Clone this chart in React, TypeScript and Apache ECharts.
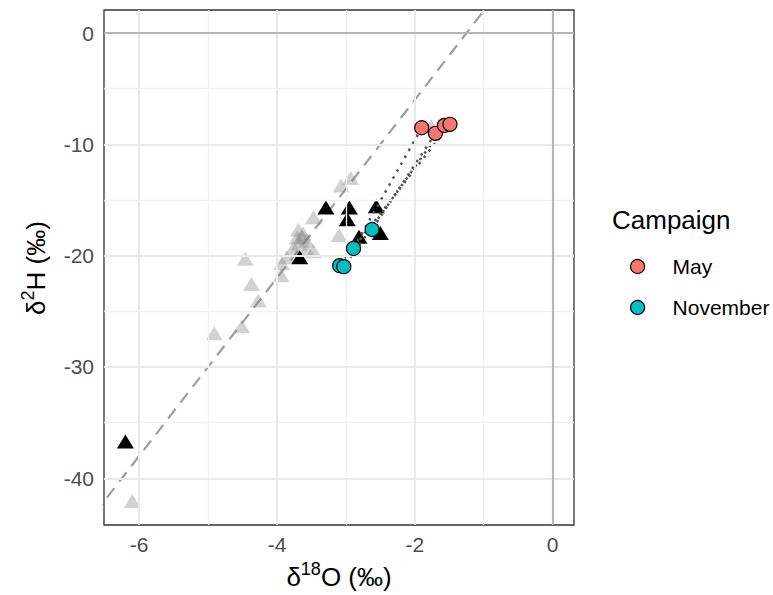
import React, { useEffect, useRef } from "react";
import * as echarts from "echarts";

const FONT = "'Liberation Sans', Arial, Helvetica, sans-serif";

// axis ticks / grid
const xTicks = [-6, -4, -2, 0];
const xMinor = [-5, -3, -1];
const yTicks = [-40, -30, -20, -10, 0];
const yMinor = [-35, -25, -15, -5];

// reference groundwater samples (light grey triangles)
const refD18O = [-2.93, -3.07, -3.47, -3.69, -3.71, -3.64, -3.57, -3.10, -3.47, -3.57, -3.86, -3.93, -4.46, -4.37, -4.27, -3.94, -4.51, -4.91, -6.10, -1.76, -3.68, -3.76, -3.62];
const refD2H = [-13.03, -13.7, -16.56, -17.68, -18.36, -18.3, -18.67, -18.14, -19.6, -19.44, -20.15, -20.68, -20.28, -22.54, -24.02, -21.76, -26.35, -26.97, -42.04, -8.36, -18.9, -19.3, -18.0];

// other samples (black triangles)
const blackD18O = [-3.29, -2.95, -2.98, -2.56, -2.81, -2.5, -3.67, -6.2];
const blackD2H = [-15.67, -15.67, -16.72, -15.57, -18.3, -17.96, -20.15, -36.69];

// campaigns
const mayD18O = [-1.9, -1.7, -1.57, -1.49];
const mayD2H = [-8.51, -9.01, -8.3, -8.2];
const novD18O = [-2.62, -2.89, -3.09, -3.03];
const novD2H = [-17.65, -19.35, -20.9, -20.99];

// site pairing May -> November (dotted links)
const pairs = [
  [0, 1],
  [1, 0],
  [2, 3],
  [3, 2],
];

// global meteoric water line d2H = 8 * d18O + 10
const gmwlSlope = 8;
const gmwlIntercept = 10;
const gmwlX = [-7, 0];

const xMin = -6.51;
const xMax = 0.31;
const yMin = -44.2;
const yMax = 2.07;

const zip = (a: number[], b: number[]) => a.map((v, i) => [v, b[i]]);

export default function App() {
  const ref = useRef<HTMLDivElement>(null);
  useEffect(() => {
    if (!ref.current) return;
    const chart = echarts.init(ref.current, null, { renderer: "svg" });

    const gridLines: any[] = [
      ...xMinor.map((v) => ({ xAxis: v, lineStyle: { color: "#f1f1f1", width: 1.3, type: "solid" } })),
      ...yMinor.map((v) => ({ yAxis: v, lineStyle: { color: "#f1f1f1", width: 1.3, type: "solid" } })),
      ...xTicks.map((v) => ({ xAxis: v, lineStyle: { color: "#e9e9e9", width: 2, type: "solid" } })),
      ...yTicks.map((v) => ({ yAxis: v, lineStyle: { color: "#e9e9e9", width: 2, type: "solid" } })),
      { xAxis: 0, lineStyle: { color: "#b5b5b5", width: 2.2, type: "solid" } },
      { yAxis: 0, lineStyle: { color: "#b5b5b5", width: 2.2, type: "solid" } },
    ];

    const linkSeries = pairs.map(([m, n], i) => ({
      type: "line",
      name: "link" + i,
      data: [
        [mayD18O[m], mayD2H[m]],
        [novD18O[n], novD2H[n]],
      ],
      showSymbol: false,
      symbol: "none",
      silent: true,
      z: 4,
      lineStyle: { color: "#555555", width: 2.5, type: [2.5, 5.5], cap: "butt" },
    }));

    const option: any = {
      animation: false,
      grid: {
        left: 104,
        top: 10,
        right: 199,
        bottom: 70,
        show: true,
        borderColor: "#333333",
        borderWidth: 1.3,
        backgroundColor: "#ffffff",
      },
      xAxis: {
        type: "value",
        min: xMin,
        max: xMax,
        axisLine: { show: false },
        splitLine: { show: false },
        axisTick: { show: true, customValues: xTicks, length: 5, lineStyle: { color: "#333333", width: 1.5 } },
        axisLabel: { customValues: xTicks, fontSize: 21, color: "#4d4d4d", margin: 9, fontFamily: FONT },
      },
      yAxis: {
        type: "value",
        min: yMin,
        max: yMax,
        axisLine: { show: false },
        splitLine: { show: false },
        axisTick: { show: true, customValues: yTicks, length: 5, lineStyle: { color: "#333333", width: 1.5 } },
        axisLabel: { customValues: yTicks, fontSize: 21, color: "#4d4d4d", margin: 10, fontFamily: FONT },
      },
      legend: {
        data: [
          { name: "May", icon: "circle" },
          { name: "November", icon: "circle" },
        ],
        orient: "vertical",
        left: 630,
        top: 256,
        padding: 0,
        itemWidth: 14,
        itemHeight: 14,
        itemGap: 20,
        selectedMode: false,
        itemStyle: { borderColor: "#000000", borderWidth: 1.2 },
        textStyle: { fontSize: 21, color: "#000000", fontFamily: FONT, padding: [0, 0, 0, 23] },
      },
      graphic: [
        {
          type: "text",
          x: 339,
          y: 577,
          style: {
            text: "{m|δ}{s|18}{m|O (‰)}",
            align: "center",
            verticalAlign: "middle",
            fill: "#000",
            rich: {
              m: { fontSize: 26, lineHeight: 34, fontFamily: FONT, fill: "#000" },
              s: { fontSize: 18, lineHeight: 18, fontFamily: FONT, fill: "#000", verticalAlign: "top" },
            },
          },
        },
        {
          type: "text",
          x: 36,
          y: 268,
          rotation: Math.PI / 2,
          style: {
            text: "{m|δ}{s|2}{m|H (‰)}",
            align: "center",
            verticalAlign: "middle",
            fill: "#000",
            rich: {
              m: { fontSize: 26, lineHeight: 34, fontFamily: FONT, fill: "#000" },
              s: { fontSize: 18, lineHeight: 18, fontFamily: FONT, fill: "#000", verticalAlign: "top" },
            },
          },
        },
        {
          type: "text",
          x: 612,
          y: 220,
          style: {
            text: "Campaign",
            fontSize: 26,
            fontFamily: FONT,
            fill: "#000",
            align: "left",
            verticalAlign: "middle",
          },
        },
      ],
      series: [
        {
          type: "line",
          name: "grid",
          data: [],
          silent: true,
          z: 0,
          markLine: {
            silent: true,
            symbol: "none",
            label: { show: false },
            animation: false,
            data: gridLines,
          },
        },
        {
          type: "line",
          name: "GMWL",
          data: gmwlX.map((x) => [x, gmwlSlope * x + gmwlIntercept]),
          showSymbol: false,
          symbol: "none",
          silent: true,
          clip: true,
          z: 2,
          lineStyle: { color: "#9e9e9e", width: 2.2, type: [12, 8] },
        },
        {
          type: "scatter",
          name: "reference",
          data: zip(refD18O, refD2H),
          symbol: "triangle",
          symbolSize: [17, 14],
          z: 3,
          itemStyle: { color: "rgba(127,127,127,0.35)", opacity: 1 },
        },
        {
          type: "scatter",
          name: "other",
          data: zip(blackD18O, blackD2H),
          symbol: "triangle",
          symbolSize: [17, 14],
          z: 3,
          itemStyle: { color: "#000000", opacity: 1 },
        },
        ...linkSeries,
        {
          type: "scatter",
          name: "May",
          data: zip(mayD18O, mayD2H),
          symbol: "circle",
          symbolSize: 14,
          z: 5,
          itemStyle: { color: "#F8766D", borderColor: "#000000", borderWidth: 1.2, opacity: 1 },
        },
        {
          type: "scatter",
          name: "November",
          data: zip(novD18O, novD2H),
          symbol: "circle",
          symbolSize: 14,
          z: 5,
          itemStyle: { color: "#00BFC4", borderColor: "#000000", borderWidth: 1.2, opacity: 1 },
        },
      ],
    };
    chart.setOption(option);
    return () => chart.dispose();
  }, []);
  return <div ref={ref} style={{ position: "absolute", left: 0, top: 0, width: 773, height: 595 }} />;
}
